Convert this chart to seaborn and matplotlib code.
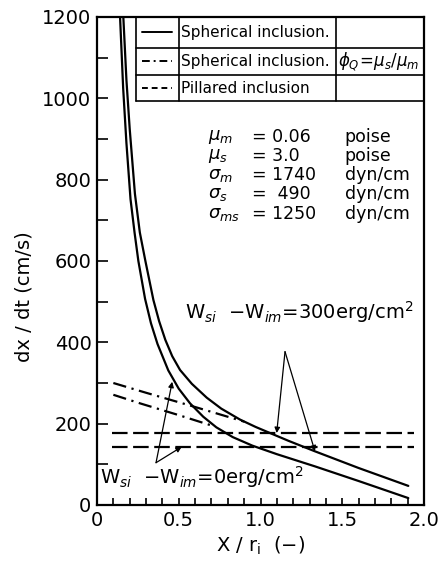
import numpy as np
import pandas as pd
import matplotlib
matplotlib.use("Agg")
import matplotlib.pyplot as plt
import seaborn as sns

# ---- data ----
# spherical inclusion, Wsi - Wim = 0 erg/cm2 (lower / left solid curve)
x_sph_w0 = [0.141, 0.16, 0.18, 0.205, 0.23, 0.253, 0.294, 0.33, 0.37, 0.436, 0.5, 0.569,
            0.65, 0.73, 0.83, 0.95, 1.1, 1.333, 1.6, 1.904]
y_sph_w0 = [1200, 1025, 890, 752, 669, 600, 507, 447, 396, 331, 286, 250,
            217, 191, 167, 146, 125, 95, 59, 17]

# spherical inclusion, Wsi - Wim = 300 erg/cm2 (upper / right solid curve)
x_sph_w300 = [0.161, 0.18, 0.2, 0.232, 0.262, 0.296, 0.345, 0.38, 0.418, 0.46, 0.508,
              0.58, 0.671, 0.76, 0.875, 0.97, 1.058, 1.17, 1.333, 1.6, 1.904]
y_sph_w300 = [1200, 1045, 925, 765, 670, 600, 504, 452, 406, 366, 332,
              298, 264, 237, 210, 192, 177, 158, 132, 91, 47]

# spherical inclusion with phi_Q = mu_s / mu_m (dash-dot)
x_phi_w300 = [0.1, 0.3, 0.6, 0.9]
y_phi_w300 = [300, 276, 241, 205]
x_phi_w0 = [0.1, 0.263, 0.5, 0.72]
y_phi_w0 = [271, 250, 221, 193]

# pillared inclusion (dashed)
x_pil = [0.09, 1.94]
y_pil_w300 = [177, 177]
y_pil_w0 = [143, 143]

x_ticks = [0, 0.5, 1.0, 1.5, 2.0]
x_ticklabels = ["0", "0.5", "1.0", "1.5", "2.0"]
y_ticks = [0, 200, 400, 600, 800, 1000, 1200]

legend_labels = ["Spherical inclusion.", "Spherical inclusion.", "Pillared inclusion"]
param_sym = [r"$\mu_m$", r"$\mu_s$", r"$\sigma_m$", r"$\sigma_s$", r"$\sigma_{ms}$"]
param_val = ["= 0.06", "= 3.0", "= 1740", "=  490", "= 1250"]
param_unit = ["poise", "poise", "dyn/cm", "dyn/cm", "dyn/cm"]

sns.set_style("ticks")
plt.rcParams['font.family'] = ['DejaVu Sans']
plt.rcParams['mathtext.fontset'] = 'dejavusans'
for k in ["text.color", "axes.labelcolor", "xtick.color", "ytick.color", "axes.edgecolor"]:
    plt.rcParams[k] = "black"

fig = plt.figure(figsize=(4.46, 5.61), dpi=100)
ax = fig.add_axes([97/446, 56/561, 327/446, 488/561])

lw = 1.6
kw = dict(ax=ax, color="black", sort=False, estimator=None, linewidth=lw, legend=False)
sns.lineplot(x=x_sph_w0, y=y_sph_w0, **kw)
sns.lineplot(x=x_sph_w300, y=y_sph_w300, **kw)
sns.lineplot(x=x_phi_w300, y=y_phi_w300, linestyle=(0, (6, 2.5, 1, 2.5)), **kw)
sns.lineplot(x=x_phi_w0, y=y_phi_w0, linestyle=(0, (6, 2.5, 1, 2.5)), **kw)
sns.lineplot(x=x_pil, y=y_pil_w300, linestyle=(0, (7, 2.5)), **kw)
sns.lineplot(x=x_pil, y=y_pil_w0, linestyle=(0, (7, 2.5)), **kw)

ax.set_xlim(0, 2.0)
ax.set_ylim(0, 1200)
ax.set_xticks(x_ticks)
ax.set_xticklabels(x_ticklabels)
ax.set_xticks(np.arange(0, 2.0001, 0.1), minor=True)
ax.set_yticks(y_ticks)
ax.set_yticks(np.arange(0, 1201, 100), minor=True)
ax.tick_params(axis="both", which="both", direction="in", width=1.2, labelsize=14, pad=4,
               colors="black")
ax.tick_params(axis="y", which="both", length=8)
ax.tick_params(axis="x", which="both", length=5)
for s in ax.spines.values():
    s.set_linewidth(1.6)
    s.set_color("black")
    s.set_visible(True)

ax.set_xlabel(r"X / r$_\mathrm{i}$  (−)", fontsize=14)
ax.set_ylabel("dx / dt (cm/s)", fontsize=14)
ax.yaxis.set_label_coords(-0.195, 0.426)
ax.xaxis.set_label_coords(0.5, -0.06)

# legend table
tr = ax.transAxes
xs = [0.119, 0.251, 0.73, 1.0]
ys = [1.0, 0.937, 0.881, 0.828]
for yy in ys[1:]:
    ax.plot([xs[0], 1.0], [yy, yy], color="black", lw=1.2, transform=tr, clip_on=False)
for xx in xs[:3]:
    ax.plot([xx, xx], [ys[-1], 1.0], color="black", lw=1.2, transform=tr, clip_on=False)
styles = ["-", (0, (4, 2, 1, 2)), (0, (3, 2))]
for i in range(3):
    yc = (ys[i] + ys[i+1]) / 2
    ax.plot([0.137, 0.228], [yc, yc], color="black", lw=1.4, linestyle=styles[i], transform=tr)
    ax.text(xs[1] + 0.006, yc, legend_labels[i], transform=tr, fontsize=11, va="center", ha="left")
ax.text(xs[2] + 0.008, (ys[1] + ys[2]) / 2, r"$\phi_Q\!=\!\mu_s/\mu_m$", transform=tr,
        fontsize=12, va="center", ha="left")

# parameter block
for i in range(5):
    yy = 0.755 - i * 0.0395
    ax.text(0.34, yy, param_sym[i], transform=tr, fontsize=13, va="center", ha="left")
    ax.text(0.475, yy, param_val[i], transform=tr, fontsize=12.5, va="center", ha="left")
    ax.text(0.757, yy, param_unit[i], transform=tr, fontsize=12.5, va="center", ha="left")

# annotations
akw = dict(arrowstyle="-|>", color="black", lw=0.9, mutation_scale=8, shrinkA=0, shrinkB=0)
ax.text(0.27, 0.395, r"W$_{si}$  $-$W$_{im}$=300erg/cm$^2$", transform=tr, fontsize=14,
        va="center", ha="left")
for tgt in [(1.099, 177), (1.333, 132)]:
    ax.annotate("", xy=tgt, xytext=(1.15, 377), arrowprops=akw)
ax.text(0.01, 0.058, r"W$_{si}$  $-$W$_{im}$=0erg/cm$^2$", transform=tr, fontsize=14,
        va="center", ha="left")
for tgt in [(0.46, 303), (0.518, 143)]:
    ax.annotate("", xy=tgt, xytext=(0.361, 104), arrowprops=akw)

fig.savefig("out.png", dpi=100)
